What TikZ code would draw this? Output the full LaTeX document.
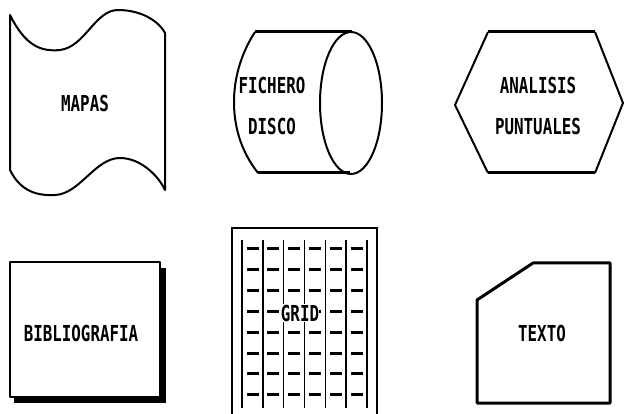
\documentclass[tikz,border=0pt]{standalone}
\usepackage{fontspec}
\newfontfamily\plotfont[FakeStretch=0.72]{DejaVu Sans Mono}
\tikzset{
  rotulo/.style={font=\plotfont\bfseries\fontsize{22}{41}\selectfont,inner sep=0pt,align=center},
  outline/.style={line width=2pt,line join=round},
  heavy/.style={line width=3pt,line join=round}
}

\begin{document}
\begin{tikzpicture}[x=1pt,y=-1pt]
  \useasboundingbox (0,0) rectangle (624,414);
  % mapas
  \draw[outline] (10,15) .. controls (25,45) and (40,52) .. (60,50)
    .. controls (85,47) and (95,10) .. (118,10)
    .. controls (140,10) and (158,20) .. (165,33) -- (165,190)
    .. controls (158,175) and (140,158) .. (120,158)
    .. controls (95,158) and (80,194) .. (55,195)
    .. controls (35,196) and (20,190) .. (10,170) -- cycle;
  \node[rotulo] (mapas) at (85,103) {MAPAS};
  % fichero disco
  \draw[heavy] (255,32) -- (352,32);
  \draw[heavy] (258,173) -- (350,173);
  \draw[outline] (255,32) .. controls (240,55) and (234,80) .. (234,102)
    .. controls (234,125) and (240,150) .. (258,173);
  \draw[outline] (351,103) ellipse [x radius=31,y radius=71];
  \node[rotulo] (fichero) at (272,106) {FICHERO\\DISCO};
  % analisis puntuales
  \draw[heavy] (488,32) -- (595,32);
  \draw[heavy] (488,173) -- (595,173);
  \draw[outline] (488,32) -- (455,105) -- (488,173);
  \draw[outline] (595,32) -- (623,103) -- (595,173);
  \node[rotulo] (analisis) at (538,106) {ANALISIS\\PUNTUALES};
  % bibliografia
  \fill (14,268) rectangle (166,403);
  \draw[outline,fill=white] (10,262) rectangle (160,397);
  \node[rotulo] (biblio) at (81,333) {BIBLIOGRAFIA};
  % grid
  \draw[line width=1.5pt] (232,416) -- (232,228) -- (377,228) -- (377,416);
  \foreach \i in {0,...,6}
    \draw[line width=1.5pt] (242+20.83*\i,240) -- (242+20.83*\i,408);
  \foreach \i in {0,...,5}
    \foreach \j in {0,...,7}
      \draw[line width=3pt] (246.5+20.83*\i,249+20.8*\j) -- (258.5+20.83*\i,249+20.8*\j);
  \node[rotulo,fill=white,inner xsep=0pt,inner ysep=1pt] (grid) at (300,313) {GRID};
  % texto
  \draw[heavy] (477,403) -- (477,300) -- (533,263) -- (610,263) -- (610,403) -- cycle;
  \node[rotulo] (texto) at (542,333) {TEXTO};
\end{tikzpicture}
\end{document}
